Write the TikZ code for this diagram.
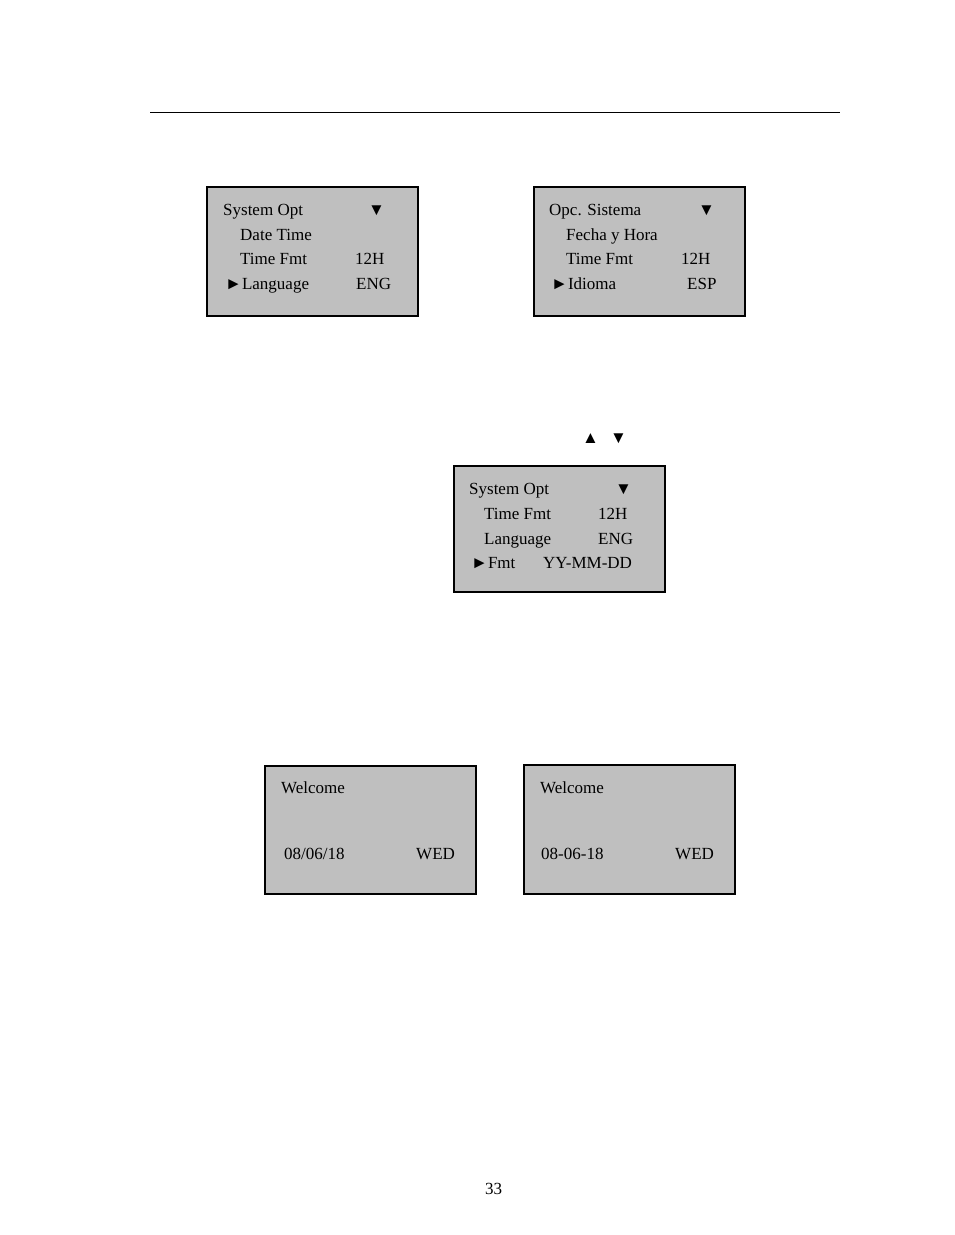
\documentclass[tikz,border=0pt]{standalone}
\usepackage{fontspec}
\setmainfont{Liberation Serif}
\tikzset{lcd/.style={draw,line width=1.5pt,fill=black!25}}
\tikzset{ltxt/.style={anchor=base west,inner sep=0pt,font=\fontsize{17}{20}\selectfont}}
\begin{document}
\begin{tikzpicture}[x=1pt,y=-1pt]
    \useasboundingbox (0,0) rectangle (954,1235);
    \draw[line width=0.8pt] (150,112) -- (840,112);

    % english menu
    \draw[lcd] (207,187) rectangle (418,316);
    \node[ltxt] (a1) at (223,215) {System Opt};
    \node[ltxt] (a2) at (368,215) {▼};
    \node[ltxt] (a3) at (240,240) {Date Time};
    \node[ltxt] (a4) at (240,264) {Time Fmt};
    \node[ltxt] (a5) at (355,264) {12H};
    \node[ltxt] (a6) at (225,289) {►Language};
    \node[ltxt] (a7) at (356,289) {ENG};

    % spanish menu
    \draw[lcd] (534,187) rectangle (745,316);
    \node[ltxt] (b1) at (549,215) {Opc. Sistema};
    \node[ltxt] (b2) at (698,215) {▼};
    \node[ltxt] (b3) at (566,240) {Fecha y Hora};
    \node[ltxt] (b4) at (566,264) {Time Fmt};
    \node[ltxt] (b5) at (681,264) {12H};
    \node[ltxt] (b6) at (551,289) {►Idioma};
    \node[ltxt] (b7) at (687,289) {ESP};

    \node[ltxt] (up) at (582,443) {▲};
    \node[ltxt] (dn) at (610,443) {▼};

    % format menu
    \draw[lcd] (454,466) rectangle (665,592);
    \node[ltxt] (c1) at (469,494) {System Opt};
    \node[ltxt] (c2) at (615,494) {▼};
    \node[ltxt] (c3) at (484,519) {Time Fmt};
    \node[ltxt] (c4) at (598,519) {12H};
    \node[ltxt] (c5) at (484,544) {Language};
    \node[ltxt] (c6) at (598,544) {ENG};
    \node[ltxt] (c7) at (471,568) {►Fmt};
    \node[ltxt] (c8) at (543,568) {YY-MM-DD};

    % welcome screens
    \draw[lcd] (265,766) rectangle (476,894);
    \node[ltxt] (d1) at (281,793) {Welcome};
    \node[ltxt] (d2) at (284,859) {08/06/18};
    \node[ltxt] (d3) at (416,859) {WED};
    \draw[lcd] (524,765) rectangle (735,894);
    \node[ltxt] (e1) at (540,793) {Welcome};
    \node[ltxt] (e2) at (541,859) {08-06-18};
    \node[ltxt] (e3) at (675,859) {WED};

    \node[ltxt] (pg) at (485,1194) {33};
\end{tikzpicture}
\end{document}
